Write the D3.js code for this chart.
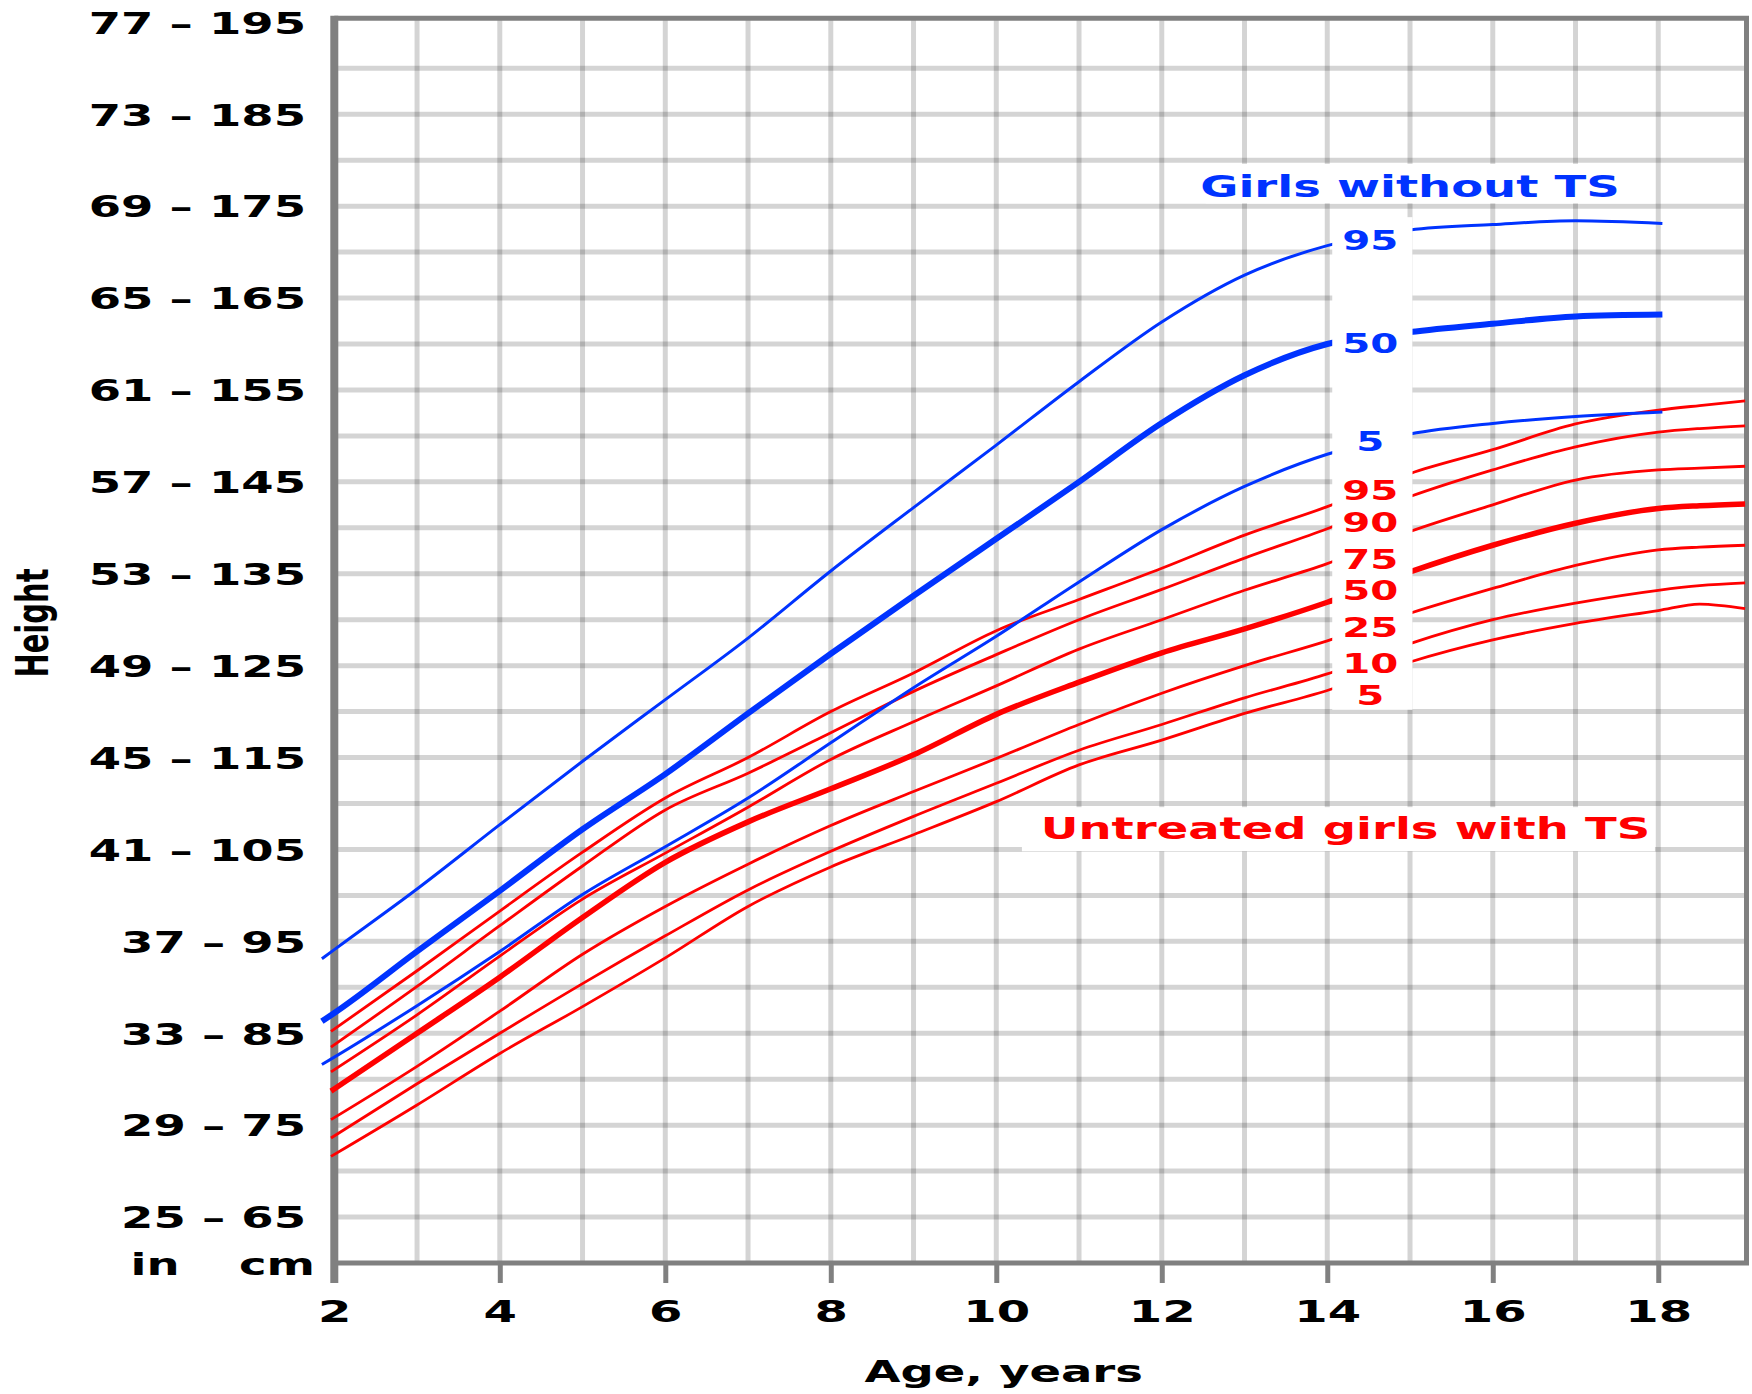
<!DOCTYPE html>
<html><head><meta charset="utf-8">
<script src="https://cdn.jsdelivr.net/npm/d3@7"></script>
<style>
html,body{margin:0;padding:0;background:#fff;}
svg{display:block;}
text{font-family:"DejaVu Sans",Verdana,sans-serif;font-weight:bold;}
</style></head><body>
<svg id="chart" width="1752" height="1394"></svg>
<script>
// ---------------- data ----------------
const girlsAges = [1.85, 2, 3, 4, 5, 6, 7, 8, 9, 10, 11, 12, 13, 14, 15, 16, 17, 18.05];
const girls95 = [93.1, 94.1, 100.7, 107.7, 114.6, 121.3, 128.0, 135.3, 142.2, 149.0, 155.9, 162.4, 167.5, 170.7, 172.4, 173.0, 173.4, 173.1];
const girls50 = [86.3, 87.2, 93.9, 100.5, 107.2, 113.2, 119.8, 126.3, 132.6, 138.8, 145.0, 151.4, 156.6, 160.0, 161.3, 162.2, 163.0, 163.2];
const girls5  = [81.6, 82.4, 88.0, 93.9, 100.1, 105.3, 110.6, 116.6, 122.6, 128.2, 134.1, 139.8, 144.5, 148.0, 150.2, 151.35, 152.1, 152.6];

const tsAges = [1.96, 3, 4, 5, 6, 7, 8, 9, 10, 11, 12, 13, 14, 15, 16, 17, 18, 18.5, 19.05];
const ts95 = [85.2, 91.8, 98.3, 104.7, 110.6, 115.0, 120.0, 124.2, 128.8, 132.2, 135.6, 139.2, 142.3, 145.9, 148.5, 151.3, 152.8, 153.3, 153.8];
const ts90 = [83.5, 90.1, 96.7, 103.2, 109.3, 113.3, 117.7, 122.2, 126.2, 130.0, 133.3, 136.7, 139.9, 143.4, 146.3, 148.8, 150.4, 150.8, 151.1];
const ts75 = [80.8, 87.0, 93.4, 99.6, 104.6, 109.6, 114.8, 118.9, 122.8, 126.8, 130.0, 133.2, 136.1, 139.6, 142.5, 145.2, 146.3, 146.5, 146.7];
const ts50 = [78.7, 85.0, 91.1, 97.6, 103.6, 108.0, 111.6, 115.3, 119.7, 123.2, 126.4, 129.0, 131.9, 135.2, 138.1, 140.5, 142.1, 142.4, 142.6];
const ts25 = [75.6, 81.4, 87.4, 93.6, 98.8, 103.4, 107.6, 111.3, 114.9, 118.6, 122.0, 125.0, 127.7, 130.7, 133.4, 135.9, 137.6, 137.9, 138.1];
const ts10 = [73.6, 79.5, 85.0, 90.4, 95.6, 100.6, 104.8, 108.6, 112.2, 115.8, 118.6, 121.5, 124.1, 127.4, 130.0, 131.8, 133.2, 133.7, 134.0];
const ts5  = [71.6, 77.2, 82.8, 87.9, 93.2, 98.8, 103.1, 106.6, 110.2, 114.2, 116.9, 119.8, 122.3, 125.4, 127.8, 129.6, 131.0, 131.7, 131.2];

const girlsPct = ["95", "50", "5"];
const girlsLabelCm = [171.3, 160.0, 149.4];
const tsPct = ["95", "90", "75", "50", "25", "10", "5"];
const tsLabelCm = [144.1, 140.6, 136.6, 133.2, 129.2, 125.2, 121.8];

const xTicks = [2, 4, 6, 8, 10, 12, 14, 16, 18];
const yTickCm = [65, 75, 85, 95, 105, 115, 125, 135, 145, 155, 165, 175, 185, 195];
const yTickIn = [25, 29, 33, 37, 41, 45, 49, 53, 57, 61, 65, 69, 73, 77];

const titleGirls = "Girls without TS";
const titleTS = "Untreated girls with TS";
const xTitle = "Age, years";
const yTitle = "Height";

// ---------------- layout ----------------
const W = 1752, H = 1394;
const SX = 1.55;                 // horizontal stretch of the lettering
const BLUE = "#0033ff", RED = "#ff0000", AXIS = "#808080";
const svg = d3.select("#chart");
svg.append("rect").attr("width", W).attr("height", H).attr("fill", "#fff");

const x = d3.scaleLinear().domain([2, 19]).range([334.3, 1741]);
const y = d3.scaleLinear().domain([60, 195]).range([1263, 22.35]);
const xRight = x(19) + 5.5, yTop = y(195) - 4;

// grid (semi-transparent so that crossings come out darker)
const grid = svg.append("g").attr("stroke", "#000").attr("stroke-opacity", 0.17).attr("stroke-width", 5);
grid.selectAll("line.v").data(d3.range(3, 19)).join("line")
  .attr("x1", d => x(d)).attr("x2", d => x(d)).attr("y1", yTop).attr("y2", y(60));
grid.selectAll("line.h").data(d3.range(65, 195, 5)).join("line")
  .attr("x1", x(2)).attr("x2", xRight).attr("y1", d => y(d)).attr("y2", d => y(d));

// white boxes behind the titles
svg.append("rect").attr("x", x(12.53)).attr("y", y(179.6)).attr("width", x(17.96) - x(12.53)).attr("height", y(175.3) - y(179.6)).attr("fill", "#fff");
svg.append("rect").attr("x", x(10.31)).attr("y", y(109.6)).attr("width", x(17.96) - x(10.31)).attr("height", y(104.8) - y(109.6)).attr("fill", "#fff");

// frame
const frame = svg.append("g").attr("stroke", AXIS);
frame.append("line").attr("x1", x(2)).attr("x2", x(2)).attr("y1", yTop - 2.5).attr("y2", y(60) + 20).attr("stroke-width", 8);
frame.append("line").attr("x1", x(2)).attr("x2", xRight + 2.5).attr("y1", y(60)).attr("y2", y(60)).attr("stroke-width", 5);
frame.append("line").attr("x1", x(2)).attr("x2", xRight + 2.5).attr("y1", yTop).attr("y2", yTop).attr("stroke-width", 5);
frame.append("line").attr("x1", xRight).attr("x2", xRight).attr("y1", yTop).attr("y2", y(60)).attr("stroke-width", 5);

// x axis
const gx = svg.append("g").attr("transform", `translate(0,${y(60)})`)
  .call(d3.axisBottom(x).tickValues(xTicks).tickSize(20).tickPadding(17).tickFormat(d3.format("d")));
gx.select(".domain").remove();
gx.selectAll(".tick line").attr("stroke", AXIS).attr("stroke-width", 5);
gx.selectAll(".tick text").attr("transform", `scale(${SX},1)`).attr("fill", "#000")
  .style("font-size", "31px").style("font-family", "'DejaVu Sans'").style("font-weight", "bold");

// y axis
const gy = svg.append("g").attr("transform", `translate(${x(2)},0)`)
  .call(d3.axisLeft(y).tickValues(yTickCm).tickSize(0).tickPadding(0)
    .tickFormat((d, i) => yTickIn[i] + " \u2013 " + d));
gy.select(".domain").remove();
gy.selectAll(".tick text").attr("x", -28.3 / SX).attr("dy", "0.36em")
  .attr("transform", `scale(${SX},1)`).attr("fill", "#000")
  .style("font-size", "30px").style("font-family", "'DejaVu Sans'").style("font-weight", "bold");

function sText(g, px, py, str, size, color, anchor) {
  return g.append("text").attr("transform", `translate(${px},${py}) scale(${SX},1)`)
    .attr("text-anchor", anchor || "middle").attr("fill", color || "#000")
    .style("font-size", size + "px").text(str);
}
sText(svg, 155, y(60) + 12, "in", 30, "#000", "middle");
sText(svg, 315, y(60) + 12, "cm", 30, "#000", "end");

// curves
const line = d3.line().curve(d3.curveMonotoneX).x(d => x(d[0])).y(d => y(d[1]));
const lines = svg.append("g").attr("fill", "none").attr("stroke-linejoin", "round");
const tsSeries = [ts95, ts90, ts75, ts50, ts25, ts10, ts5];
tsSeries.forEach((s, i) => {
  lines.append("path").datum(tsAges.map((a, j) => [a, s[j]]))
    .attr("d", line).attr("stroke", RED).attr("stroke-width", tsPct[i] === "50" ? 5.5 : 2.8);
});
const girlsSeries = [girls95, girls50, girls5];
girlsSeries.forEach((s, i) => {
  lines.append("path").datum(girlsAges.map((a, j) => [a, s[j]]))
    .attr("d", line).attr("stroke", BLUE).attr("stroke-width", girlsPct[i] === "50" ? 6 : 3);
});

// label column box (interrupts the curves)
svg.append("rect").attr("x", x(14.06)).attr("y", y(173.8)).attr("width", x(15.03) - x(14.06))
  .attr("height", y(120.2) - y(173.8)).attr("fill", "#fff");

const LBL = 26;
const labels = svg.append("g");
girlsPct.forEach((p, i) => sText(labels, x(14.52), y(girlsLabelCm[i]) + LBL * 0.365, p, LBL, BLUE));
tsPct.forEach((p, i) => sText(labels, x(14.52), y(tsLabelCm[i]) + LBL * 0.365, p, LBL, RED));

// titles
sText(svg, x(15.0), y(176.0), titleGirls, 30, BLUE);
sText(svg, x(14.22), y(106.1), titleTS, 30, RED);
sText(svg, x(10.09), 1382, xTitle, 30, "#000");
svg.append("text").attr("transform", `translate(48,623) scale(${SX},1) rotate(-90)`)
  .attr("text-anchor", "middle").attr("fill", "#000").style("font-size", "29px").text(yTitle);
</script>
</body></html>
